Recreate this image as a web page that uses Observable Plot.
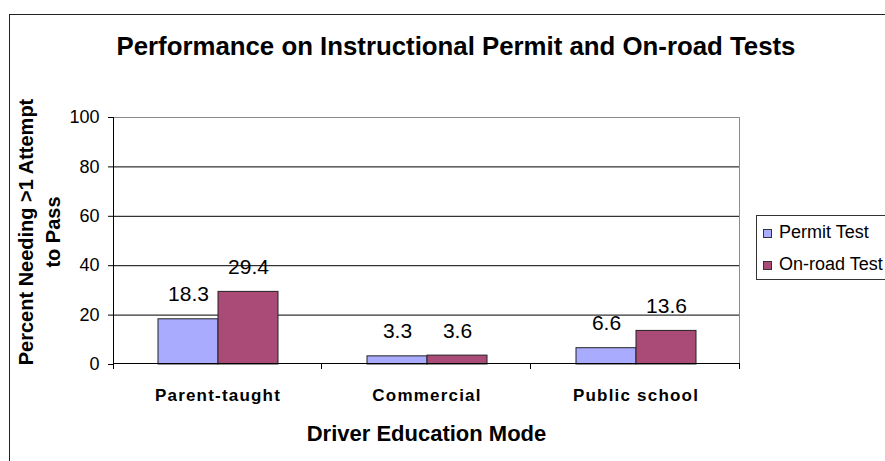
<!DOCTYPE html>
<html>
<head>
<meta charset="utf-8">
<script src="https://cdn.jsdelivr.net/npm/d3@7"></script>
<script src="https://cdn.jsdelivr.net/npm/@observablehq/plot@0.6"></script>
<style>
  html, body { margin: 0; padding: 0; background: #fff; overflow: hidden; width: 885px; height: 461px; }
  #wrap { position: relative; width: 885px; height: 461px; overflow: hidden; font-family: "Liberation Sans", Arial, sans-serif; }
  #border { position: absolute; left: 9px; top: 14px; width: 1000px; height: 1000px; border: 1px solid #222; box-sizing: border-box; }
  #chart { position: absolute; left: 0; top: 0; }
  #legend { position: absolute; left: 756px; top: 215px; }
</style>
</head>
<body>
<div id="wrap">
  <div id="border"></div>
  <div id="chart"></div>
  <svg id="legend" width="129" height="66"></svg>
</div>
<script>
const categories = ["Parent-taught", "Commercial", "Public school"];
const series = ["Permit Test", "On-road Test"];
const legendLabels = ["Permit Test", "On-road Test"];
const permitValues = [18.3, 3.3, 6.6];
const onroadValues = [29.4, 3.6, 13.6];
const yTicks = [0, 20, 40, 60, 80, 100];
const colors = ["#a9abff", "#a94a77"];
const title = "Performance on Instructional Permit and On-road Tests";
const xTitle = "Driver Education Mode";
const yTitleLines = ["Percent Needing >1 Attempt", "to Pass"];

const data = categories.flatMap((c, i) => [
  {cat: c, s: series[0], v: permitValues[i]},
  {cat: c, s: series[1], v: onroadValues[i]}
]);

const FONT = "Liberation Sans, Arial, sans-serif";

const plot = Plot.plot({
  width: 885,
  height: 461,
  marginLeft: 112,
  marginRight: 144,
  marginTop: 117,
  marginBottom: 97,
  style: {fontFamily: FONT, background: "transparent", color: "#000", overflow: "visible"},
  fx: {domain: categories, padding: 0, label: null},
  x: {domain: series, paddingInner: 0, paddingOuter: 0.72, axis: null},
  y: {domain: [0, 100], label: null},
  color: {domain: series, range: colors},
  marks: [
    Plot.ruleY(yTicks.filter(t => t > 0 && t < 100), {stroke: "#000", strokeWidth: 1}),
    Plot.ruleY([100], {stroke: "#8c8c8c", strokeWidth: 1}),
    Plot.barY(data, {fx: "cat", x: "s", y: "v", fill: "s", stroke: "#222", strokeWidth: 1}),
    Plot.text(data, {fx: "cat", x: "s", y: "v", text: d => d.v.toFixed(1), dy: -18, lineAnchor: "bottom", fontSize: 21, fill: "#000"}),
    Plot.axisY({ticks: yTicks, tickSize: 5, tickPadding: 9, fontSize: 18, label: null, tickFormat: d => String(d)}),
    Plot.axisFx({anchor: "bottom", tickSize: 0, tickPadding: 24, fontSize: 17, fontWeight: "bold", label: null})
  ]
});

document.getElementById("chart").appendChild(plot);

const svg = d3.select(plot);
const fx = plot.scale("fx");
const y = plot.scale("y");
const y0 = y.apply(0), y100 = y.apply(100);
const left = fx.apply(categories[0]);
const right = fx.apply(categories[categories.length - 1]) + fx.bandwidth;

// letter spacing on category labels (Excel-like wide spacing)
svg.selectAll('g[aria-label="fx-axis tick label"] text').attr("letter-spacing", "1.2px");

const g = svg.append("g");
// plot area right border (gray)
g.append("line").attr("x1", right - 0.5).attr("x2", right - 0.5).attr("y1", y100).attr("y2", y0)
  .attr("stroke", "#8c8c8c");
// y axis line
g.append("line").attr("x1", left + 0.5).attr("x2", left + 0.5).attr("y1", y100).attr("y2", y0)
  .attr("stroke", "#000");
// x axis line
g.append("line").attr("x1", left).attr("x2", right).attr("y1", y0 - 0.5).attr("y2", y0 - 0.5)
  .attr("stroke", "#000");
// category boundary ticks
const bounds = categories.map(c => fx.apply(c)).concat([right]);
bounds.forEach((bx, i) => {
  const xx = i === 0 ? bx + 0.5 : bx - 0.5;
  g.append("line").attr("x1", xx).attr("x2", xx).attr("y1", y0).attr("y2", y0 + 5).attr("stroke", "#000");
});

// chart title
svg.append("text").attr("x", 456).attr("y", 55).attr("text-anchor", "middle")
  .attr("font-family", FONT).attr("font-size", 25.8).attr("font-weight", "bold").attr("fill", "#000")
  .text(title);
// x axis title
svg.append("text").attr("x", (left + right) / 2).attr("y", 441).attr("text-anchor", "middle")
  .attr("font-family", FONT).attr("font-size", 22).attr("font-weight", "bold").attr("fill", "#000")
  .text(xTitle);
// y axis title (two lines, rotated)
const yt = svg.append("text").attr("transform", "translate(33,232) rotate(-90)")
  .attr("text-anchor", "middle").attr("font-family", FONT).attr("font-size", 20)
  .attr("font-weight", "bold").attr("fill", "#000");
yt.append("tspan").attr("x", 0).attr("y", 0).text(yTitleLines[0]);
yt.append("tspan").attr("x", 0).attr("y", 27).text(yTitleLines[1]);

// legend
const lg = d3.select("#legend");
lg.append("rect").attr("x", 0.5).attr("y", 0.5).attr("width", 300).attr("height", 64)
  .attr("fill", "#fff").attr("stroke", "#333");
legendLabels.forEach((lab, i) => {
  const yy = 14 + i * 32;
  lg.append("rect").attr("x", 7.5).attr("y", yy + 0.5).attr("width", 8).attr("height", 8)
    .attr("fill", colors[i]).attr("stroke", "#333");
  lg.append("text").attr("x", 23).attr("y", yy + 9).attr("font-family", FONT).attr("font-size", 18)
    .attr("fill", "#000").text(lab);
});
</script>
</body>
</html>
